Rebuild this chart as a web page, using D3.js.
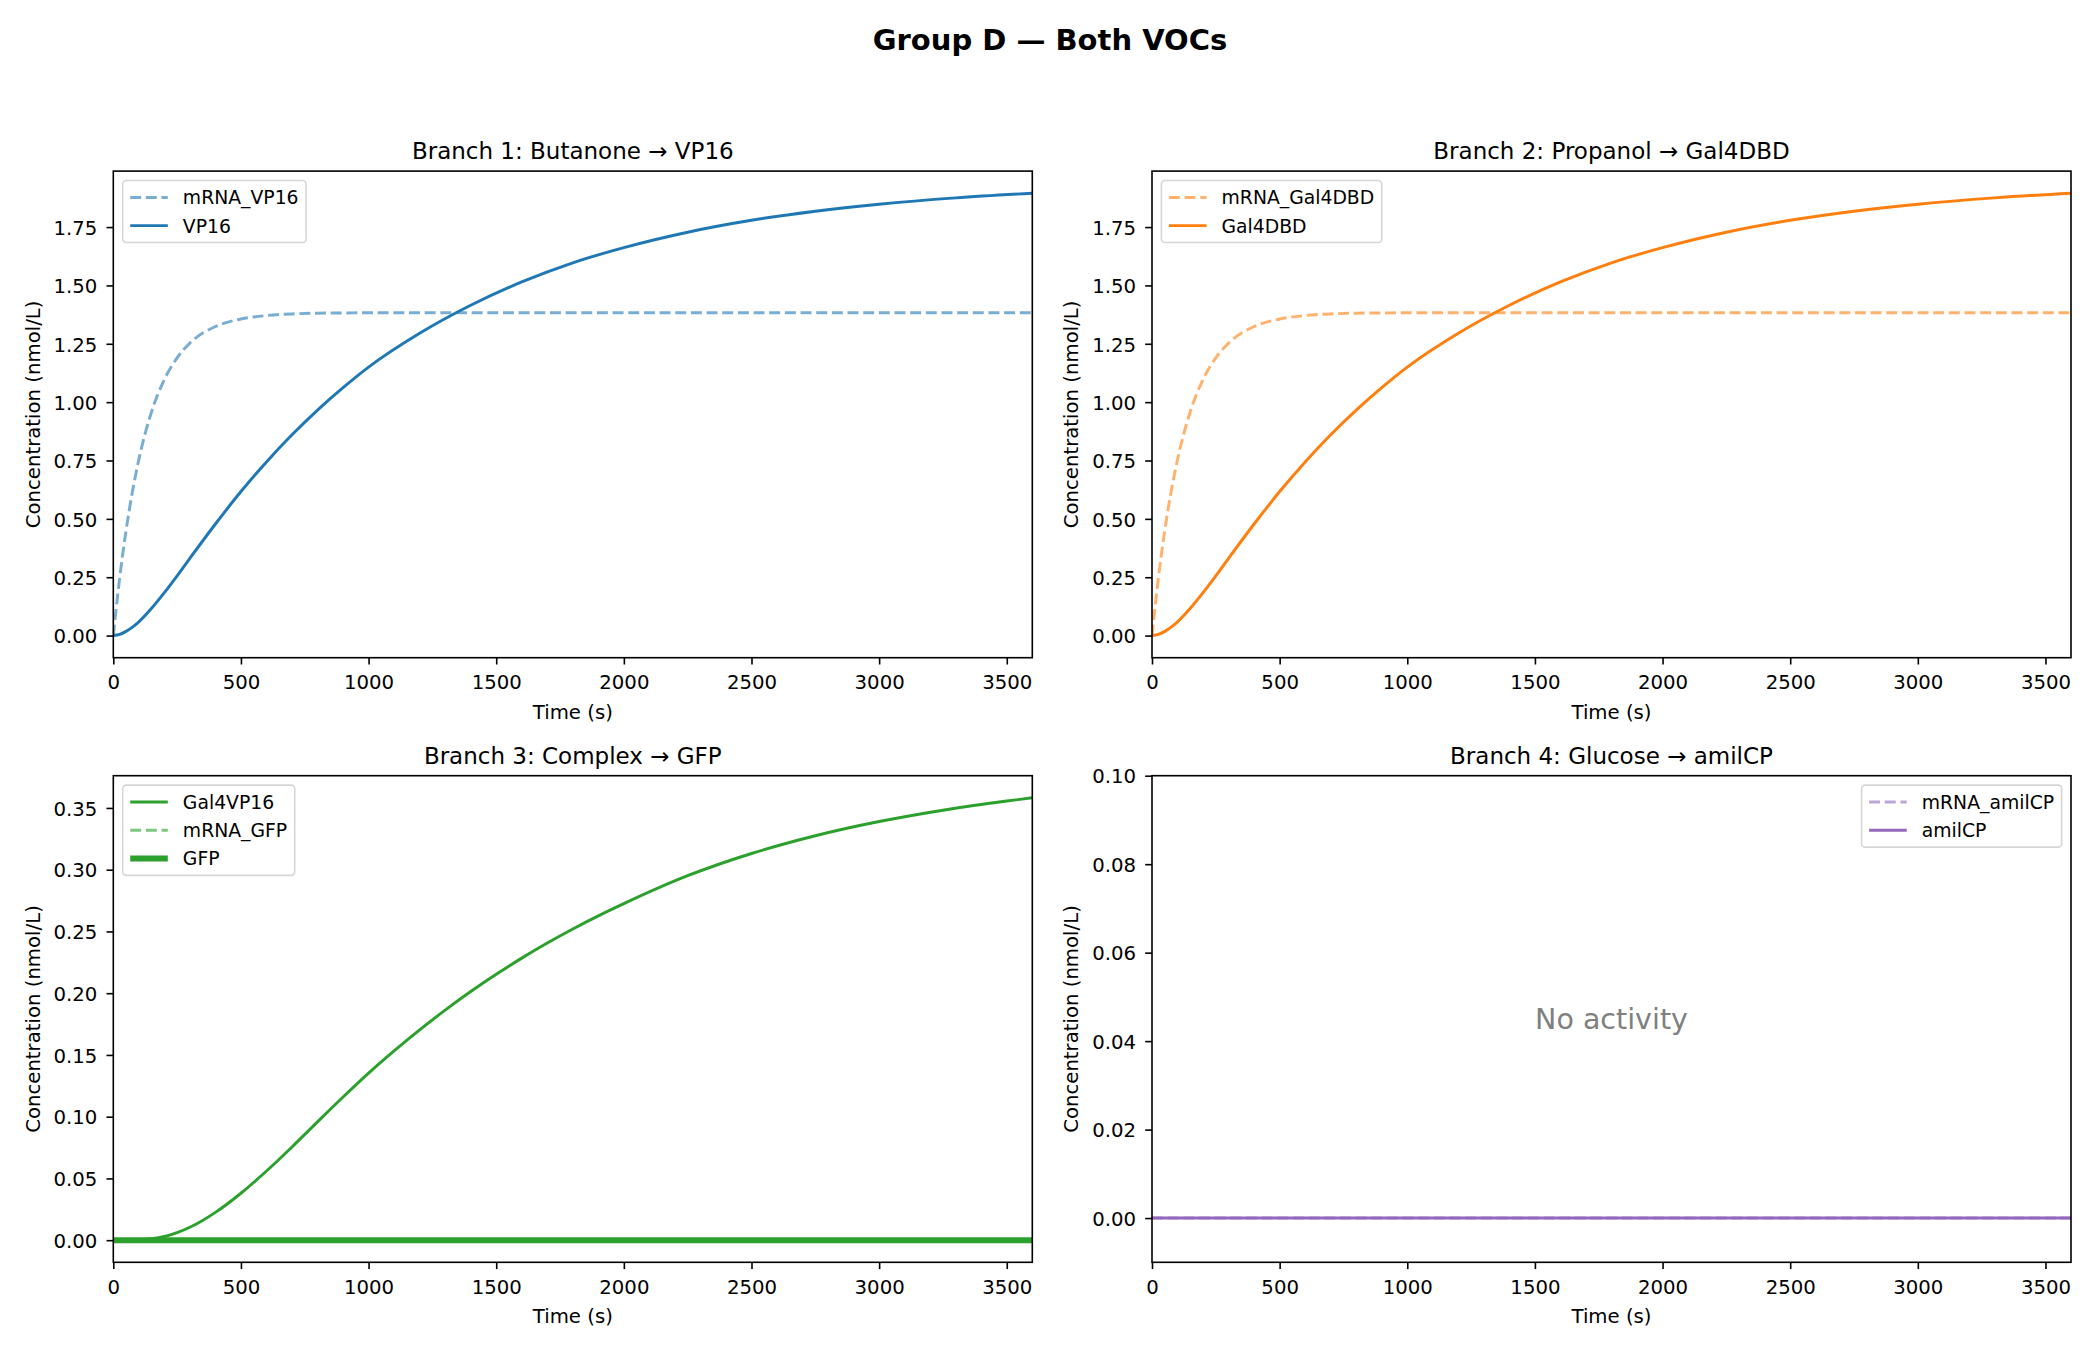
<!DOCTYPE html>
<html><head><meta charset="utf-8">
<script src="https://cdn.jsdelivr.net/npm/d3@7/dist/d3.min.js"></script>
<style>body{margin:0;background:#fff} svg{display:block} text{font-family:"DejaVu Sans",sans-serif}</style>
</head><body><svg id="c" width="2100" height="1350"></svg>
<script>
// ---------------- data ----------------
const timeA = [0,25,50,75,100,150,200,250,300,400,500,600,700,800,900,1000,1200,1400,1600,1800,2000,2250,2500,2750,3000,3300,3600];
const mrnaVP16 = [0,0.247,0.450,0.617,0.754,0.959,1.097,1.190,1.253,1.324,1.356,1.371,1.378,1.381,1.382,1.383,1.383,1.383,1.383,1.383,1.383,1.383,1.383,1.383,1.383,1.383,1.383];
const vp16 = [0,0.005,0.018,0.036,0.059,0.117,0.184,0.256,0.331,0.478,0.617,0.744,0.860,0.966,1.062,1.150,1.295,1.415,1.515,1.597,1.662,1.728,1.779,1.818,1.848,1.875,1.895];
const mrnaGal4DBD = [0,0.247,0.450,0.617,0.754,0.959,1.097,1.190,1.253,1.324,1.356,1.371,1.378,1.381,1.382,1.383,1.383,1.383,1.383,1.383,1.383,1.383,1.383,1.383,1.383,1.383,1.383];
const gal4DBD = [0,0.005,0.018,0.036,0.059,0.117,0.184,0.256,0.331,0.478,0.617,0.744,0.860,0.966,1.062,1.150,1.295,1.415,1.515,1.597,1.662,1.728,1.779,1.818,1.848,1.875,1.895];

const timeB = [0,50,100,150,200,250,300,350,400,500,600,700,800,900,1000,1100,1200,1300,1400,1500,1600,1700,1800,1900,2000,2250,2500,2750,3000,3250,3500,3600];
const gal4VP16 = [0,0,0.0003,0.0012,0.003,0.0062,0.0105,0.016,0.0225,0.038,0.056,0.0755,0.0958,0.1159,0.1353,0.1533,0.1703,0.1863,0.2013,0.2153,0.2284,0.2406,0.2520,0.2626,0.2725,0.2951,0.3131,0.3275,0.3390,0.3482,0.3556,0.3582];
const mrnaGFP = [0,0,0,0,0,0,0,0,0,0,0,0,0,0,0,0,0,0,0,0,0,0,0,0,0,0,0,0,0,0,0,0];
const gfp = [0,0,0,0,0,0,0,0,0,0,0,0,0,0,0,0,0,0,0,0,0,0,0,0,0,0,0,0,0,0,0,0];
const mrnaAmilCP = [0,0,0,0,0,0,0,0,0,0,0,0,0,0,0,0,0,0,0,0,0,0,0,0,0,0,0,0,0,0,0,0];
const amilCP = [0,0,0,0,0,0,0,0,0,0,0,0,0,0,0,0,0,0,0,0,0,0,0,0,0,0,0,0,0,0,0,0];

const xTicks = [0,500,1000,1500,2000,2500,3000,3500];
const yTicksAB = [0,0.25,0.5,0.75,1.0,1.25,1.5,1.75];
const yTicksC = [0,0.05,0.10,0.15,0.20,0.25,0.30,0.35];
const yTicksD = [0,0.02,0.04,0.06,0.08,0.10];
const panelTitles = ["Branch 1: Butanone \u2192 VP16","Branch 2: Propanol \u2192 Gal4DBD","Branch 3: Complex \u2192 GFP","Branch 4: Glucose \u2192 amilCP"];
const figTitle = "Group D \u2014 Both VOCs";
const xLabel = "Time (s)";
const yLabel = "Concentration (nmol/L)";
const noActivity = "No activity";

// ---------------- styling ----------------
const PT = 1.97;
const LW = 1.5*PT;
const DASH = [3.7*1.5*PT, 1.6*1.5*PT].join(",");
const C = {blue:"#1f77b4", orange:"#ff7f0e", green:"#2ca02c", purple:"#9467bd"};

const panels = [
  {title:panelTitles[0], t:timeA, yTicks:yTicksAB, fmt:d3.format(".2f"), legend:"ul",
   series:[{label:"mRNA_VP16", v:mrnaVP16, color:C.blue, dash:true, alpha:0.6, w:LW},
           {label:"VP16", v:vp16, color:C.blue, dash:false, alpha:1, w:LW}]},
  {title:panelTitles[1], t:timeA, yTicks:yTicksAB, fmt:d3.format(".2f"), legend:"ul",
   series:[{label:"mRNA_Gal4DBD", v:mrnaGal4DBD, color:C.orange, dash:true, alpha:0.6, w:LW},
           {label:"Gal4DBD", v:gal4DBD, color:C.orange, dash:false, alpha:1, w:LW}]},
  {title:panelTitles[2], t:timeB, yTicks:yTicksC, fmt:d3.format(".2f"), legend:"ul",
   series:[{label:"Gal4VP16", v:gal4VP16, color:C.green, dash:false, alpha:1, w:LW},
           {label:"mRNA_GFP", v:mrnaGFP, color:C.green, dash:true, alpha:0.6, w:LW},
           {label:"GFP", v:gfp, color:C.green, dash:false, alpha:1, w:2*LW}]},
  {title:panelTitles[3], t:timeB, yTicks:yTicksD, fmt:d3.format(".2f"), legend:"ur", ylim:[-0.01,0.1], note:noActivity,
   series:[{label:"mRNA_amilCP", v:mrnaAmilCP, color:C.purple, dash:true, alpha:0.6, w:LW},
           {label:"amilCP", v:amilCP, color:C.purple, dash:false, alpha:1, w:LW}]}
];

const lefts = [113.3, 1152], tops = [171.1, 775.7], PW = 919, PH = 486.6;
const svg = d3.select("#c");
svg.append("rect").attr("width",2100).attr("height",1350).attr("fill","#fff");

svg.append("text").attr("x",1050).attr("y",50).attr("text-anchor","middle")
  .attr("font-size",29).attr("font-weight","bold").text(figTitle);

panels.forEach((p,i)=>{
  const L = lefts[i%2], T = tops[Math.floor(i/2)];
  const g = svg.append("g").attr("transform",`translate(${L},${T})`);
  const x = d3.scaleLinear().domain([0,3600]).range([0,PW]);
  let dom = p.ylim;
  if(!dom){
    const all = p.series.flatMap(s=>s.v);
    const lo = d3.min(all), hi = d3.max(all), r = hi-lo;
    dom = [lo-0.05*r, hi+0.05*r];
  }
  const y = d3.scaleLinear().domain(dom).range([PH,0]);

  const cid = "clip"+i;
  g.append("clipPath").attr("id",cid).append("rect").attr("width",PW).attr("height",PH);
  const lines = g.append("g").attr("clip-path",`url(#${cid})`);
  p.series.forEach(s=>{
    const line = d3.line().x((d,k)=>x(p.t[k])).y(d=>y(d)).curve(d3.curveMonotoneX);
    lines.append("path").attr("d",line(s.v)).attr("fill","none")
      .attr("stroke",s.color).attr("stroke-opacity",s.alpha).attr("stroke-width",s.w)
      .attr("stroke-dasharray",s.dash?DASH:null).attr("stroke-linecap","butt");
  });

  // axes
  const ax = g.append("g").attr("transform",`translate(0,${PH})`)
    .call(d3.axisBottom(x).tickValues(xTicks).tickFormat(d3.format("d")).tickSize(6.8).tickSizeOuter(0).tickPadding(10.5));
  const ay = g.append("g")
    .call(d3.axisLeft(y).tickValues(p.yTicks).tickFormat(p.fmt).tickSize(6.8).tickSizeOuter(0).tickPadding(9.2));
  [ax,ay].forEach(a=>{
    a.select(".domain").remove();
    a.selectAll(".tick line").attr("stroke","#000").attr("stroke-width",1.6);
    a.selectAll(".tick text").attr("font-size",19.7).attr("fill","#000").attr("font-family","DejaVu Sans");
  });
  ay.selectAll(".tick text").attr("dy","0.37em");

  // frame
  g.append("rect").attr("width",PW).attr("height",PH).attr("fill","none").attr("stroke","#000").attr("stroke-width",1.6);

  // titles & labels
  g.append("text").attr("x",PW/2).attr("y",-11.8).attr("text-anchor","middle").attr("font-size",23).text(p.title);
  g.append("text").attr("x",PW/2).attr("y",PH+61).attr("text-anchor","middle").attr("font-size",19.7).text(xLabel);
  g.append("text").attr("transform",`translate(${-80},${PH/2}) rotate(-90)`).attr("dy","0.32em")
    .attr("text-anchor","middle").attr("font-size",19.7).text(yLabel);

  if(p.note){
    g.append("text").attr("x",PW/2).attr("y",PH/2).attr("dy","0.36em").attr("text-anchor","middle")
      .attr("font-size",28.5).attr("fill","#808080").text(p.note);
  }

  // legend
  const fs = 18.8, pad = 0.4*fs, lsp = 0.5*fs, hl = 2*fs, htp = 0.8*fs, bap = 0.5*fs, rowH = 1.0*fs;
  const lg = g.append("g");
  const frame = lg.append("rect");
  const texts = p.series.map(s=>lg.append("text").attr("font-size",fs).text(s.label));
  const maxW = d3.max(texts, t=>t.node().getComputedTextLength());
  const bw = 2*pad + hl + htp + maxW, bh = 2*pad + p.series.length*rowH + (p.series.length-1)*lsp;
  const x0 = p.legend==="ul" ? bap : PW - bap - bw, y0 = bap;
  frame.attr("x",x0).attr("y",y0).attr("width",bw).attr("height",bh).attr("rx",3.5)
    .attr("fill","#fff").attr("fill-opacity",0.8).attr("stroke","#cccccc").attr("stroke-opacity",0.8).attr("stroke-width",1.6);
  p.series.forEach((s,k)=>{
    const cy = y0 + pad + rowH/2 + k*(rowH+lsp);
    lg.append("line").attr("x1",x0+pad).attr("x2",x0+pad+hl).attr("y1",cy).attr("y2",cy)
      .attr("stroke",s.color).attr("stroke-opacity",s.alpha).attr("stroke-width",s.w)
      .attr("stroke-dasharray",s.dash?DASH:null);
    texts[k].attr("x",x0+pad+hl+htp).attr("y",cy).attr("dy","0.37em");
  });
});
</script></body></html>
